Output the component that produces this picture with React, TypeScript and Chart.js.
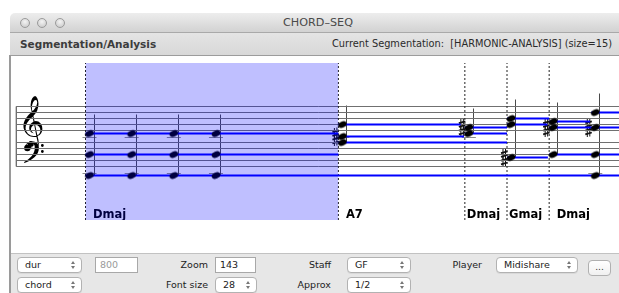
import React, { useEffect, useRef } from 'react';
import { Chart, registerables } from 'chart.js';

Chart.register(...registerables);

// ---------- data (time in beats, pitch in diatonic staff steps, E4 = 0) ----------
const segmentNames = ['Dmaj', 'A7', 'Dmaj', 'Gmaj', 'Dmaj'];
const segmentStarts = [0, 6, 9, 10, 11];
const shadedSegment = 0;

const chordOnsets = [0, 1, 2, 3, 6, 9, 10, 11, 12];
const chordPitches = [
  [-1, -8, -15],
  [-1, -8, -15],
  [-1, -8, -15],
  [-1, -8, -15],
  [2, -2, -4],
  [1, -1],
  [4, 2, -9],
  [3, 1, -8],
  [6, 1, -8, -15],
];
const chordSharps = [[], [], [], [], [-2], [1], [-9], [1], [1]];

// held notes (duration lines)
const heldPitches = [-1, -8, -15, 2, -2, -4, 1, -1, 4, 2, -9, 3, 1, -8, 6];
const heldStarts = [0, 0, 0, 6, 6, 6, 9, 9, 10, 10, 10, 11, 11, 11, 12];
const heldEnds = [6, 6, 14, 8.9, 8.98, 10, 10, 10, 11, 10.96, 10.97, 11.97, 14, 14, 14];

const trebleLines = [0, 2, 4, 6, 8];
const bassLines = [-4, -6, -8, -10, -12];
const staffStart = -1.64;

// axis ranges
const X_MIN = -1.7675;
const X_MAX = 12.657;
const Y_MAX = 22.5;
const Y_MIN = -29.833;

const FONT = '"DejaVu Sans", Verdana, sans-serif';

function makeNotehead(): HTMLCanvasElement {
  const c = document.createElement('canvas');
  c.width = 18;
  c.height = 10;
  const g = c.getContext('2d')!;
  g.fillStyle = '#000';
  g.beginPath();
  g.ellipse(13, 5, 4.5, 3.1, -0.4, 0, Math.PI * 2);
  g.fill();
  return c;
}

function drawSharp(ctx: CanvasRenderingContext2D, cx: number, cy: number) {
  ctx.strokeStyle = '#111';
  ctx.lineWidth = 1;
  ctx.beginPath();
  ctx.moveTo(cx - 1, cy - 5);
  ctx.lineTo(cx - 1, cy + 5.5);
  ctx.moveTo(cx + 1.5, cy - 5.5);
  ctx.lineTo(cx + 1.5, cy + 5);
  ctx.stroke();
  ctx.lineWidth = 1.8;
  ctx.beginPath();
  ctx.moveTo(cx - 3, cy - 0.8);
  ctx.lineTo(cx + 3.5, cy - 2.6);
  ctx.moveTo(cx - 3, cy + 2.8);
  ctx.lineTo(cx + 3.5, cy + 1);
  ctx.stroke();
}

function drawBassClef(ctx: CanvasRenderingContext2D, bx: number, fy: number) {
  ctx.fillStyle = '#000';
  ctx.beginPath();
  ctx.arc(bx + 4, fy - 0.5, 3.2, 0, Math.PI * 2);
  ctx.fill();
  ctx.beginPath();
  ctx.moveTo(bx + 1.5, fy - 1);
  ctx.bezierCurveTo(bx + 2, fy - 8.5, bx + 15, fy - 9.5, bx + 15.5, fy - 1);
  ctx.bezierCurveTo(bx + 16, fy + 7, bx + 8, fy + 12, bx + 1, fy + 14.5);
  ctx.lineTo(bx + 0.7, fy + 13.5);
  ctx.bezierCurveTo(bx + 7, fy + 10, bx + 11.5, fy + 5.5, bx + 11.5, fy - 1);
  ctx.bezierCurveTo(bx + 11.5, fy - 7, bx + 4, fy - 7.5, bx + 1.5, fy - 1);
  ctx.fill();
  ctx.beginPath();
  ctx.arc(bx + 19, fy - 3, 1.4, 0, Math.PI * 2);
  ctx.arc(bx + 19, fy + 3, 1.4, 0, Math.PI * 2);
  ctx.fill();
}

const notationPlugin = {
  id: 'notation',
  beforeDatasetsDraw(chart: any) {
    const { ctx, chartArea } = chart;
    const x = chart.scales.x;
    const y = chart.scales.y;
    ctx.save();

    // segment labels
    ctx.font = `bold 11.5px ${FONT}`;
    ctx.fillStyle = '#000';
    ctx.textAlign = 'left';
    ctx.textBaseline = 'alphabetic';
    segmentNames.forEach((name, i) => {
      const start = segmentStarts[i];
      const end = i + 1 < segmentStarts.length ? segmentStarts[i + 1] : X_MAX;
      const px = x.getPixelForValue(start);
      const w = x.getPixelForValue(end) - px;
      ctx.fillText(name, px + (w > 50 ? 7.5 : 2), chartArea.bottom - 2);
    });

    // ledger lines, stems, sharps
    chordOnsets.forEach((t, i) => {
      const px = x.getPixelForValue(t);
      const ledgers = new Set<number>();
      chordPitches[i].forEach((p) => {
        if (p >= -3 && p <= -1) ledgers.add(-2);
        for (let l = -14; l >= p; l -= 2) ledgers.add(l);
        for (let l = 10; l <= p; l += 2) ledgers.add(l);
      });
      ctx.strokeStyle = '#8c8c8c';
      ctx.lineWidth = 1;
      ledgers.forEach((l) => {
        const py = Math.round(y.getPixelForValue(l)) + 0.5;
        ctx.beginPath();
        ctx.moveTo(px - 3, py);
        ctx.lineTo(px + 11, py);
        ctx.stroke();
      });

      const ys = chordPitches[i].map((p) => y.getPixelForValue(p));
      const top = Math.min(...ys) - 19;
      const bot = Math.max(...ys);
      const sx = Math.round(px + 8) + 0.5;
      ctx.strokeStyle = '#4a4a4a';
      ctx.lineWidth = 1;
      ctx.beginPath();
      ctx.moveTo(sx, top);
      ctx.lineTo(sx, bot);
      ctx.stroke();

      chordSharps[i].forEach((p) => {
        const py = y.getPixelForValue(p);
        drawSharp(ctx, px - 3, py - 3.5);
        drawSharp(ctx, px - 3, py + 4);
      });
    });

    // clefs
    const cx = x.getPixelForValue(staffStart);
    ctx.fillStyle = '#000';
    ctx.textAlign = 'left';
    ctx.textBaseline = 'alphabetic';
    ctx.font = `45px ${FONT}`;
    ctx.fillText('\u{1D11E}', cx + 1.5, y.getPixelForValue(-1.7));
    drawBassClef(ctx, cx + 7, y.getPixelForValue(-6));

    ctx.restore();
  },
};

function buildDatasets(notehead: HTMLCanvasElement) {
  const ds: any[] = [];
  const line = (data: any[], color: string, width: number, order: number, extra: any = {}) => ({
    data,
    showLine: true,
    borderColor: color,
    borderWidth: width,
    pointRadius: 0,
    fill: false,
    order,
    ...extra,
  });

  // shaded segment (drawn on top)
  const sStart = segmentStarts[shadedSegment];
  const sEnd = segmentStarts[shadedSegment + 1];
  ds.push(
    line(
      [
        { x: sStart, y: Y_MAX },
        { x: sEnd, y: Y_MAX },
      ],
      'rgba(0,0,0,0)',
      0,
      -1,
      { fill: 'start', backgroundColor: 'rgba(0,0,255,0.25)' }
    )
  );

  // noteheads
  const notes: any[] = [];
  chordOnsets.forEach((t, i) => chordPitches[i].forEach((p) => notes.push({ x: t, y: p })));
  ds.push({
    data: notes,
    showLine: false,
    pointStyle: notehead,
    pointRadius: 4,
    order: 0,
  });

  // held-note lines
  heldPitches.forEach((p, i) => {
    ds.push(
      line(
        [
          { x: heldStarts[i], y: p },
          { x: heldEnds[i], y: p },
        ],
        '#0000ff',
        2,
        1
      )
    );
  });

  // segment boundaries
  segmentStarts.forEach((s) => {
    ds.push(
      line(
        [
          { x: s, y: Y_MIN },
          { x: s, y: Y_MAX },
        ],
        '#222',
        1,
        2,
        { borderDash: [2, 2] }
      )
    );
  });

  // staff lines
  [...trebleLines, ...bassLines].forEach((s) => {
    ds.push(
      line(
        [
          { x: staffStart, y: s },
          { x: X_MAX + 1, y: s },
        ],
        '#707070',
        1,
        3
      )
    );
  });
  ds.push(
    line(
      [
        { x: staffStart, y: Math.max(...trebleLines) },
        { x: staffStart, y: Math.min(...bassLines) },
      ],
      '#707070',
      1,
      3
    )
  );
  return ds;
}

function Arrows() {
  const tri = (top: number, up: boolean): React.CSSProperties => ({
    position: 'absolute',
    right: 6,
    top,
    width: 0,
    height: 0,
    borderLeft: '2.5px solid transparent',
    borderRight: '2.5px solid transparent',
    ...(up ? { borderBottom: '3px solid #777' } : { borderTop: '3px solid #777' }),
  });
  return (
    <>
      <div style={tri(3, true)} />
      <div style={tri(8, false)} />
    </>
  );
}

function Select({ left, top, width, text }: { left: number; top: number; width: number; text: string }) {
  return (
    <div
      style={{
        position: 'absolute',
        left,
        top,
        width,
        height: 16,
        boxSizing: 'border-box',
        background: '#fff',
        border: '1px solid #b2b2b2',
        borderRadius: 4,
        boxShadow: '0 1px 0 rgba(0,0,0,0.06)',
        fontSize: 9.5,
        lineHeight: '14px',
        paddingLeft: 7,
        color: '#222',
      }}
    >
      {text}
      <Arrows />
    </div>
  );
}

function Field({ left, top, width, text, color }: { left: number; top: number; width: number; text: string; color: string }) {
  return (
    <div
      style={{
        position: 'absolute',
        left,
        top,
        width,
        height: 16,
        boxSizing: 'border-box',
        background: '#fff',
        border: '1px solid #a8a8a8',
        fontSize: 9.5,
        lineHeight: '14px',
        paddingLeft: 4,
        color,
      }}
    >
      {text}
    </div>
  );
}

function Label({ right, top, text }: { right: number; top: number; text: string }) {
  return (
    <div
      style={{
        position: 'absolute',
        right: 619 - right,
        top,
        height: 16,
        fontSize: 9.5,
        lineHeight: '16px',
        color: '#222',
        textAlign: 'right',
        whiteSpace: 'nowrap',
      }}
    >
      {text}
    </div>
  );
}

export default function App() {
  const canvasRef = useRef<HTMLCanvasElement | null>(null);

  useEffect(() => {
    document.body.style.margin = '0';
    const canvas = canvasRef.current;
    if (!canvas) return;
    const chart = new Chart(canvas, {
      type: 'scatter',
      data: { datasets: buildDatasets(makeNotehead()) },
      options: {
        responsive: false,
        maintainAspectRatio: false,
        animation: false,
        events: [],
        layout: { padding: 0, autoPadding: false },
        plugins: { legend: { display: false }, tooltip: { enabled: false } },
        scales: {
          x: { type: 'linear', min: X_MIN, max: X_MAX, display: false },
          y: { type: 'linear', min: Y_MIN, max: Y_MAX, display: false },
        },
      },
      plugins: [notationPlugin],
    } as any);
    return () => chart.destroy();
  }, []);

  return (
    <div
      style={{
        position: 'fixed',
        left: 0,
        top: 0,
        width: 619,
        height: 293,
        overflow: 'hidden',
        background: '#fff',
        fontFamily: FONT,
      }}
    >
      {/* title bar */}
      <div
        style={{
          position: 'absolute',
          left: 10,
          top: 13,
          width: 640,
          height: 19,
          background: 'linear-gradient(#ededed, #d2d2d2)',
          borderTopLeftRadius: 5,
          borderBottom: '1px solid #a9a9a9',
        }}
      >
        {[15, 31.5, 49.5].map((cx, i) => (
          <div
            key={i}
            style={{
              position: 'absolute',
              left: cx - 5,
              top: 5,
              width: 10,
              height: 10,
              boxSizing: 'border-box',
              borderRadius: '50%',
              border: '1px solid #9a9a9a',
              background: 'radial-gradient(circle at 50% 35%, #f4f4f4, #c4c4c4)',
            }}
          />
        ))}
        <div
          style={{
            position: 'absolute',
            left: 273,
            top: 0,
            height: 19,
            lineHeight: '20px',
            fontSize: 11.2,
            color: '#4a4a4a',
          }}
        >
          CHORD–SEQ
        </div>
      </div>

      {/* header bar */}
      <div
        style={{
          position: 'absolute',
          left: 10,
          top: 33,
          width: 640,
          height: 22,
          background: 'linear-gradient(#e4e4e4, #d8d8d8)',
          borderBottom: '1px solid #9c9c9c',
        }}
      >
        <div
          style={{
            position: 'absolute',
            left: 10,
            top: 0,
            lineHeight: '22px',
            fontSize: 10.5,
            fontWeight: 'bold',
            color: '#3c3c3c',
          }}
        >
          Segmentation/Analysis
        </div>
        <div
          style={{
            position: 'absolute',
            right: 640 - 602,
            top: 0,
            lineHeight: '22px',
            fontSize: 9.8,
            color: '#2a2a2a',
            whiteSpace: 'pre',
          }}
        >
          {'Current Segmentation:  [HARMONIC-ANALYSIS] (size=15)'}
        </div>
      </div>

      {/* left border of content */}
      <div style={{ position: 'absolute', left: 9, top: 55, width: 2, height: 238, background: '#9a9a9a' }} />

      {/* chart */}
      <canvas
        ref={canvasRef}
        width={608}
        height={157}
        style={{ position: 'absolute', left: 11, top: 63, width: 608, height: 157 }}
      />

      {/* bottom panel */}
      <div
        style={{
          position: 'absolute',
          left: 11,
          top: 253,
          width: 620,
          height: 40,
          background: '#e7e7e7',
          borderTop: '1px solid #c2c2c2',
        }}
      />
      <Select left={17} top={257} width={65} text="dur" />
      <Field left={95} top={257} width={43} text="800" color="#9a9a9a" />
      <Label right={208} top={257} text="Zoom" />
      <Field left={215} top={257} width={41} text="143" color="#222" />
      <Label right={331} top={257} text="Staff" />
      <Select left={347} top={257} width={64} text="GF" />
      <Label right={482} top={257} text="Player" />
      <Select left={496} top={257} width={82} text="Midishare" />
      <div
        style={{
          position: 'absolute',
          left: 588,
          top: 260,
          width: 23,
          height: 16,
          boxSizing: 'border-box',
          background: 'linear-gradient(#ffffff, #f0f0f0)',
          border: '1px solid #b0b0b0',
          borderRadius: 4,
          fontSize: 9,
          lineHeight: '12px',
          textAlign: 'center',
          color: '#333',
        }}
      >
        ...
      </div>

      <Select left={17} top={277} width={65} text="chord" />
      <Label right={208} top={277} text="Font size" />
      <Select left={215} top={277} width={42} text="28" />
      <Label right={331} top={277} text="Approx" />
      <Select left={347} top={277} width={64} text="1/2" />
    </div>
  );
}
